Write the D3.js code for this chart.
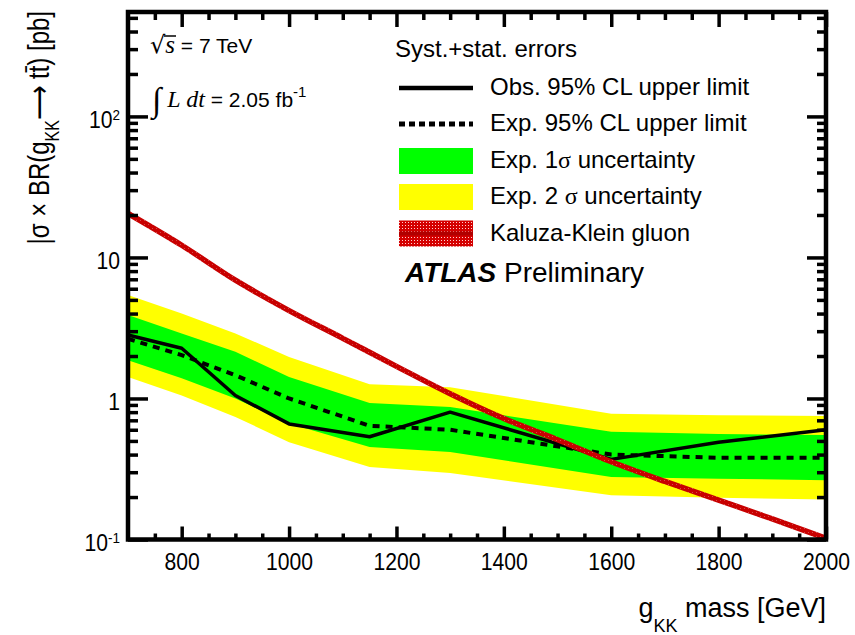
<!DOCTYPE html>
<html>
<head>
<meta charset="utf-8">
<script src="https://cdnjs.cloudflare.com/ajax/libs/d3/7.8.5/d3.min.js"></script>
<style>
body { margin: 0; background: #fff; }
text { font-family: "Liberation Sans", Arial, sans-serif; fill: #000; }
</style>
</head>
<body>
<div id="chart-area"></div>
<script>
// limit points (GeV)
var mass = [700, 800, 900, 1000, 1150, 1300, 1600, 1800, 2000];
var obsLimit = [2.82, 2.27, 1.05, 0.66, 0.535, 0.80, 0.37, 0.49, 0.60];
var expLimit = [2.65, 2.03, 1.46, 1.0, 0.64, 0.60, 0.40, 0.38, 0.38];
var sig1Up = [3.9, 2.89, 2.14, 1.42, 0.93, 0.87, 0.58, 0.56, 0.55];
var sig1Dn = [1.87, 1.39, 1.0, 0.665, 0.453, 0.418, 0.277, 0.27, 0.263];
var sig2Up = [5.42, 4.01, 2.89, 1.97, 1.26, 1.2, 0.78, 0.76, 0.75];
var sig2Dn = [1.42, 1.05, 0.74, 0.49, 0.327, 0.296, 0.206, 0.198, 0.192];

// Kaluza-Klein gluon theory curve
var kkMass = [700, 800, 900, 1000, 1100, 1200, 1300, 1400, 1500, 1600, 1700, 1800, 1900, 2000];
var kkXsec = [20.5, 12.2, 6.9, 4.2, 2.67, 1.69, 1.08, 0.72, 0.51, 0.356, 0.258, 0.19, 0.14, 0.102];

var xTicks = [800, 1000, 1200, 1400, 1600, 1800, 2000];
var yTicks = [0.1, 1, 10, 100];
var yTickBase = ["10", "1", "10", "10"];
var yTickExp = ["-1", "", "", "2"];

var legendHeader = "Syst.+stat. errors";
var legendLabels = ["Obs. 95% CL upper limit", "Exp. 95% CL upper limit", "Exp. 1", "Exp. 2 ", "Kaluza-Klein gluon"];

var X0 = 128, X1 = 826, Y0 = 12, Y1 = 539.5;

var x = d3.scaleLinear().domain([700, 2000]).range([X0, X1]);
var y = d3.scaleLog().domain([0.1, 550]).range([Y1, Y0]);

var svg = d3.select("#chart-area")
  .append("svg")
    .attr("width", 855)
    .attr("height", 635);

var defs = svg.append("defs");
var tex = defs.append("pattern").attr("id", "kkTex")
  .attr("patternUnits", "userSpaceOnUse").attr("width", 4).attr("height", 4);
tex.append("rect").attr("width", 4).attr("height", 4).attr("fill", "#c80000");
tex.append("rect").attr("width", 1).attr("height", 1).attr("fill", "#d84848");
var box = defs.append("pattern").attr("id", "kkBox")
  .attr("patternUnits", "userSpaceOnUse").attr("width", 3).attr("height", 3);
box.append("rect").attr("width", 3).attr("height", 3).attr("fill", "#d40000");
box.append("rect").attr("width", 1).attr("height", 1).attr("fill", "#ffd0d0");

var pts = mass.map(function(m, i) {
  return {m: m, obs: obsLimit[i], exp: expLimit[i], u1: sig1Up[i], d1: sig1Dn[i], u2: sig2Up[i], d2: sig2Dn[i]};
});
var kk = kkMass.map(function(m, i) { return {m: m, v: kkXsec[i]}; });

// bands
svg.append("path").datum(pts)
  .attr("fill", "#ffff00")
  .attr("d", d3.area().x(function(d) { return x(d.m); })
    .y0(function(d) { return y(d.d2); }).y1(function(d) { return y(d.u2); }));
svg.append("path").datum(pts)
  .attr("fill", "#00ff00")
  .attr("d", d3.area().x(function(d) { return x(d.m); })
    .y0(function(d) { return y(d.d1); }).y1(function(d) { return y(d.u1); }));

svg.append("path").datum(pts)
  .attr("fill", "none").attr("stroke", "#000").attr("stroke-width", 4)
  .attr("stroke-dasharray", "7,6")
  .attr("d", d3.line().x(function(d) { return x(d.m); }).y(function(d) { return y(d.exp); }));
svg.append("path").datum(pts)
  .attr("fill", "none").attr("stroke", "#000").attr("stroke-width", 3.5)
  .attr("stroke-linejoin", "round")
  .attr("d", d3.line().x(function(d) { return x(d.m); }).y(function(d) { return y(d.obs); }));

svg.append("path").datum(kk)
  .attr("fill", "none").attr("stroke", "url(#kkTex)").attr("stroke-width", 5.5)
  .attr("d", d3.line().curve(d3.curveMonotoneX)
    .x(function(d) { return x(d.m); }).y(function(d) { return y(d.v); }));

// axes, ticks inside the frame
var xMinor = d3.range(750, 2000, 50).filter(function(v) { return xTicks.indexOf(v) < 0; });
var yMinor = [];
[0.1, 1, 10, 100].forEach(function(p) {
  for (var k = 2; k <= 9; k++) { if (k * p <= 550) yMinor.push(k * p); }
});

function styleAxis(g) {
  g.attr("font-family", null).attr("font-size", null);
  g.select(".domain").remove();
  g.selectAll("line").attr("stroke-width", 3.5).attr("stroke", "#000");
}

var xAxisGroup = svg.append("g")
  .attr("transform", "translate(0," + Y1 + ")")
  .call(d3.axisBottom(x).tickValues(xTicks).tickSize(-13).tickPadding(14).tickFormat(d3.format("d")))
  .call(styleAxis);
xAxisGroup.selectAll("text").attr("font-size", "23.5px").attr("transform", "scale(0.9,1)");
svg.append("g").attr("transform", "translate(0," + Y1 + ")")
  .call(d3.axisBottom(x).tickValues(xMinor).tickSize(-6).tickFormat(""))
  .call(styleAxis);

svg.append("g").attr("transform", "translate(0," + Y0 + ")")
  .call(d3.axisTop(x).tickValues(xTicks).tickSize(-15).tickFormat(""))
  .call(styleAxis);
svg.append("g").attr("transform", "translate(0," + Y0 + ")")
  .call(d3.axisTop(x).tickValues(xMinor).tickSize(-8).tickFormat(""))
  .call(styleAxis);

var yAxisGroup = svg.append("g")
  .attr("transform", "translate(" + X0 + ",0)")
  .call(d3.axisLeft(y).tickValues(yTicks).tickSize(-20).tickPadding(8).tickFormat(""))
  .call(styleAxis);
yAxisGroup.selectAll("text").each(function(d, i) {
  var t = d3.select(this).attr("x", -8.9).attr("dy", "0.48em")
    .attr("font-size", "23.5px").attr("transform", "scale(0.9,1)");
  t.append("tspan").text(yTickBase[i]);
  if (yTickExp[i]) t.append("tspan").attr("dy", "-8").attr("font-size", "15px").text(yTickExp[i]);
});
svg.append("g").attr("transform", "translate(" + X0 + ",0)")
  .call(d3.axisLeft(y).tickValues(yMinor).tickSize(-10).tickFormat(""))
  .call(styleAxis);

svg.append("g").attr("transform", "translate(" + X1 + ",0)")
  .call(d3.axisRight(y).tickValues(yTicks).tickSize(-19).tickFormat(""))
  .call(styleAxis);
svg.append("g").attr("transform", "translate(" + X1 + ",0)")
  .call(d3.axisRight(y).tickValues(yMinor).tickSize(-9).tickFormat(""))
  .call(styleAxis);

// frame
svg.append("rect")
  .attr("x", X0).attr("y", Y0).attr("width", X1 - X0).attr("height", Y1 - Y0)
  .attr("fill", "none").attr("stroke", "#000").attr("stroke-width", 4.5);

// axis titles
var xLabel = svg.append("text")
  .attr("x", X1).attr("y", 617).attr("text-anchor", "end").attr("font-size", "27px");
xLabel.append("tspan").text("g");
xLabel.append("tspan").attr("dy", 15).attr("font-size", "18px").text("KK");
xLabel.append("tspan").attr("dy", -15).text(" mass [GeV]");

var yLabel = svg.append("text")
  .attr("transform", "translate(49,11) rotate(-90) scale(0.8,1)")
  .attr("text-anchor", "end").attr("font-size", "30px");
yLabel.append("tspan").text("|σ × BR(g");
yLabel.append("tspan").attr("dy", 10).attr("font-size", "20px").text("KK");
yLabel.append("tspan").attr("dy", -10).attr("font-family", "DejaVu Sans").text("⟶");
yLabel.append("tspan").text(" tt\u0304) [pb]");

// top-left annotations
var ann1 = svg.append("text").attr("x", 150).attr("y", 53).attr("font-size", "21px");
ann1.append("tspan").attr("font-family", "DejaVu Sans").attr("font-size", "24px").text("√");
ann1.append("tspan").attr("font-family", "Liberation Serif").attr("font-style", "italic").attr("font-size", "25px").text("s");
ann1.append("tspan").text("  = 7 TeV");
svg.append("line").attr("x1", 164).attr("x2", 176).attr("y1", 36).attr("y2", 36)
  .attr("stroke", "#000").attr("stroke-width", 1.5);

var ann2 = svg.append("text").attr("x", 152).attr("y", 107).attr("font-size", "21px");
ann2.append("tspan").attr("font-family", "Liberation Serif").attr("font-size", "34px").attr("dy", 4).text("∫");
ann2.append("tspan").attr("font-family", "Liberation Serif").attr("font-style", "italic").attr("font-size", "24px").attr("dy", -4).text(" L dt");
ann2.append("tspan").text(" = 2.05 fb");
ann2.append("tspan").attr("dy", -10).attr("font-size", "15px").text("-1");

// legend
var lgX = 399, lgW = 74, txX = 490;
var rowY = [88, 124, 161, 197, 233.5];
svg.append("text").attr("x", 395).attr("y", 57).attr("font-size", "24px").text(legendHeader);

svg.append("line").attr("x1", lgX).attr("x2", lgX + lgW).attr("y1", rowY[0]).attr("y2", rowY[0])
  .attr("stroke", "#000").attr("stroke-width", 4.5);
svg.append("line").attr("x1", lgX).attr("x2", lgX + lgW).attr("y1", rowY[1]).attr("y2", rowY[1])
  .attr("stroke", "#000").attr("stroke-width", 5).attr("stroke-dasharray", "6,4");
svg.append("rect").attr("x", lgX).attr("y", rowY[2] - 13).attr("width", lgW).attr("height", 26).attr("fill", "#00ff00");
svg.append("rect").attr("x", lgX).attr("y", rowY[3] - 13).attr("width", lgW).attr("height", 26).attr("fill", "#ffff00");
svg.append("rect").attr("x", lgX).attr("y", rowY[4] - 13).attr("width", lgW).attr("height", 26).attr("fill", "url(#kkBox)");
svg.append("line").attr("x1", lgX).attr("x2", lgX + lgW).attr("y1", rowY[4]).attr("y2", rowY[4])
  .attr("stroke", "#b00000").attr("stroke-width", 4);

legendLabels.forEach(function(lab, i) {
  var t = svg.append("text").attr("x", txX).attr("y", rowY[i] + 7).attr("font-size", "24px");
  t.append("tspan").text(lab);
  if (i === 2 || i === 3) {
    t.append("tspan").attr("font-family", "Liberation Serif").text("σ");
    t.append("tspan").text(" uncertainty");
  }
});

var atlas = svg.append("text").attr("x", 405).attr("y", 282).attr("font-size", "28px");
atlas.append("tspan").attr("font-weight", "bold").attr("font-style", "italic").text("ATLAS");
atlas.append("tspan").text(" Preliminary");
</script>
</body>
</html>
